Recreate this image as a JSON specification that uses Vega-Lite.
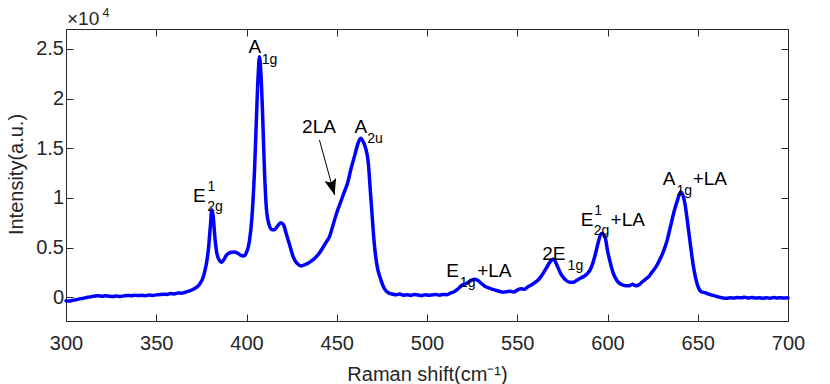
{
  "$schema": "https://vega.github.io/schema/vega-lite/v6.json",
  "width": 722,
  "height": 292,
  "autosize": "none",
  "padding": {"left": 66, "top": 29, "right": 42, "bottom": 63},
  "background": "white",
  "config": {
    "view": {"stroke": null},
    "font": "Liberation Sans",
    "axis": {
      "grid": false,
      "domain": true,
      "domainColor": "#262626",
      "domainWidth": 1,
      "tickColor": "#262626",
      "labelColor": "#262626",
      "titleColor": "#262626",
      "labelFont": "Liberation Sans",
      "titleFont": "Liberation Sans",
      "labelFontSize": 20,
      "titleFontSize": 20,
      "titleFontWeight": "normal",
      "tickSize": -7,
      "tickWidth": 1,
      "labelFlush": false,
      "labelOverlap": false
    }
  },
  "datasets": {
    "spectrum": [
      {"shift": 300, "intensity": -350}, {"shift": 302, "intensity": -380}, {"shift": 304, "intensity": -300},
      {"shift": 306, "intensity": -250}, {"shift": 308, "intensity": -150}, {"shift": 310, "intensity": -100},
      {"shift": 312, "intensity": 0}, {"shift": 314, "intensity": 50}, {"shift": 316, "intensity": 120},
      {"shift": 318, "intensity": 150}, {"shift": 320, "intensity": 100}, {"shift": 322, "intensity": 140},
      {"shift": 324, "intensity": 90}, {"shift": 326, "intensity": 60}, {"shift": 328, "intensity": 110},
      {"shift": 330, "intensity": 70}, {"shift": 332, "intensity": 130}, {"shift": 334, "intensity": 180},
      {"shift": 336, "intensity": 150}, {"shift": 338, "intensity": 200}, {"shift": 340, "intensity": 160},
      {"shift": 342, "intensity": 190}, {"shift": 344, "intensity": 150}, {"shift": 346, "intensity": 220},
      {"shift": 348, "intensity": 170}, {"shift": 350, "intensity": 230}, {"shift": 352, "intensity": 260},
      {"shift": 354, "intensity": 300}, {"shift": 356, "intensity": 280}, {"shift": 358, "intensity": 360},
      {"shift": 360, "intensity": 330}, {"shift": 362, "intensity": 420}, {"shift": 364, "intensity": 400},
      {"shift": 366, "intensity": 500}, {"shift": 368, "intensity": 600}, {"shift": 370, "intensity": 750},
      {"shift": 372, "intensity": 950}, {"shift": 374, "intensity": 1300}, {"shift": 376, "intensity": 2000},
      {"shift": 377, "intensity": 2700}, {"shift": 378, "intensity": 3600}, {"shift": 379, "intensity": 5000},
      {"shift": 380, "intensity": 7200}, {"shift": 380.8, "intensity": 8800}, {"shift": 381.5, "intensity": 8200},
      {"shift": 382.5, "intensity": 6000}, {"shift": 383.5, "intensity": 4500}, {"shift": 385, "intensity": 3700},
      {"shift": 386.2, "intensity": 3500}, {"shift": 387.5, "intensity": 3800}, {"shift": 389, "intensity": 4250},
      {"shift": 391, "intensity": 4500}, {"shift": 393, "intensity": 4550}, {"shift": 395, "intensity": 4450},
      {"shift": 397, "intensity": 4200}, {"shift": 398.5, "intensity": 4150}, {"shift": 400, "intensity": 4500},
      {"shift": 401.5, "intensity": 5500}, {"shift": 403, "intensity": 8000}, {"shift": 404.5, "intensity": 13000},
      {"shift": 405.5, "intensity": 18000}, {"shift": 406.5, "intensity": 22500}, {"shift": 407.2, "intensity": 24200},
      {"shift": 408, "intensity": 22500}, {"shift": 409, "intensity": 18000}, {"shift": 410, "intensity": 12500},
      {"shift": 411, "intensity": 9000}, {"shift": 412.5, "intensity": 7300}, {"shift": 414, "intensity": 6800},
      {"shift": 415.5, "intensity": 6800}, {"shift": 417, "intensity": 7100}, {"shift": 419, "intensity": 7500},
      {"shift": 420.5, "intensity": 7300}, {"shift": 422, "intensity": 6400}, {"shift": 424, "intensity": 5200},
      {"shift": 426, "intensity": 4000}, {"shift": 428, "intensity": 3400}, {"shift": 430.5, "intensity": 3150},
      {"shift": 432, "intensity": 3250}, {"shift": 434, "intensity": 3400}, {"shift": 436, "intensity": 3650},
      {"shift": 438, "intensity": 3950}, {"shift": 440, "intensity": 4350}, {"shift": 442, "intensity": 4900},
      {"shift": 444, "intensity": 5500}, {"shift": 446, "intensity": 6100}, {"shift": 448, "intensity": 7300},
      {"shift": 450, "intensity": 8500}, {"shift": 452, "intensity": 9500}, {"shift": 454, "intensity": 10500},
      {"shift": 456, "intensity": 11500}, {"shift": 458, "intensity": 13000}, {"shift": 460, "intensity": 14300},
      {"shift": 462, "intensity": 15600}, {"shift": 463.3, "intensity": 16000}, {"shift": 464.5, "intensity": 15700},
      {"shift": 466, "intensity": 15000}, {"shift": 467.5, "intensity": 13500}, {"shift": 468.5, "intensity": 11000},
      {"shift": 469.5, "intensity": 8500}, {"shift": 470.5, "intensity": 6000}, {"shift": 471.5, "intensity": 4200},
      {"shift": 472.5, "intensity": 3000}, {"shift": 474, "intensity": 2000}, {"shift": 475.5, "intensity": 1200},
      {"shift": 477, "intensity": 700}, {"shift": 479, "intensity": 400}, {"shift": 481, "intensity": 300},
      {"shift": 483, "intensity": 250}, {"shift": 485, "intensity": 320}, {"shift": 487, "intensity": 200},
      {"shift": 489, "intensity": 250}, {"shift": 491, "intensity": 180}, {"shift": 493, "intensity": 280},
      {"shift": 495, "intensity": 220}, {"shift": 497, "intensity": 150}, {"shift": 499, "intensity": 240},
      {"shift": 501, "intensity": 190}, {"shift": 503, "intensity": 230}, {"shift": 505, "intensity": 260},
      {"shift": 507, "intensity": 200}, {"shift": 509, "intensity": 280}, {"shift": 511, "intensity": 250},
      {"shift": 513, "intensity": 400}, {"shift": 515, "intensity": 550}, {"shift": 517, "intensity": 800},
      {"shift": 519, "intensity": 1150}, {"shift": 521, "intensity": 1300}, {"shift": 523, "intensity": 1500},
      {"shift": 525, "intensity": 1750}, {"shift": 526.5, "intensity": 1800}, {"shift": 528, "intensity": 1700},
      {"shift": 530, "intensity": 1400}, {"shift": 532, "intensity": 1100}, {"shift": 534, "intensity": 950},
      {"shift": 536, "intensity": 800}, {"shift": 538, "intensity": 700}, {"shift": 540, "intensity": 600},
      {"shift": 542, "intensity": 500}, {"shift": 544, "intensity": 550}, {"shift": 546, "intensity": 600},
      {"shift": 548, "intensity": 520}, {"shift": 550, "intensity": 700}, {"shift": 552, "intensity": 850},
      {"shift": 554, "intensity": 800}, {"shift": 556, "intensity": 1050}, {"shift": 558, "intensity": 1250},
      {"shift": 560, "intensity": 1500}, {"shift": 562, "intensity": 1800}, {"shift": 564, "intensity": 2300},
      {"shift": 566, "intensity": 2900}, {"shift": 568, "intensity": 3500}, {"shift": 569.8, "intensity": 3850},
      {"shift": 571, "intensity": 3600}, {"shift": 572.5, "intensity": 3000}, {"shift": 574, "intensity": 2400},
      {"shift": 575.5, "intensity": 2000}, {"shift": 577, "intensity": 1700}, {"shift": 579, "intensity": 1500},
      {"shift": 581, "intensity": 1500}, {"shift": 583, "intensity": 1700}, {"shift": 585, "intensity": 1900},
      {"shift": 587, "intensity": 2100}, {"shift": 589, "intensity": 2400}, {"shift": 590.5, "intensity": 2800},
      {"shift": 592, "intensity": 3500}, {"shift": 593.5, "intensity": 4500}, {"shift": 595, "intensity": 5600},
      {"shift": 596.5, "intensity": 6400}, {"shift": 598, "intensity": 6300}, {"shift": 599, "intensity": 5800},
      {"shift": 600, "intensity": 4700}, {"shift": 601.5, "intensity": 3500}, {"shift": 603, "intensity": 2500},
      {"shift": 604.5, "intensity": 1900}, {"shift": 606, "intensity": 1500}, {"shift": 608, "intensity": 1250},
      {"shift": 610, "intensity": 1150}, {"shift": 612, "intensity": 1150}, {"shift": 614, "intensity": 1300},
      {"shift": 615.5, "intensity": 1150}, {"shift": 617, "intensity": 1200}, {"shift": 619, "intensity": 1500},
      {"shift": 621, "intensity": 1800}, {"shift": 623, "intensity": 2100}, {"shift": 625, "intensity": 2600},
      {"shift": 627, "intensity": 3100}, {"shift": 629, "intensity": 3800}, {"shift": 631, "intensity": 4600},
      {"shift": 633, "intensity": 5700}, {"shift": 635, "intensity": 7200}, {"shift": 637, "intensity": 8700},
      {"shift": 639, "intensity": 9900}, {"shift": 640.5, "intensity": 10600}, {"shift": 641.5, "intensity": 10400},
      {"shift": 643, "intensity": 9300}, {"shift": 644.5, "intensity": 7300}, {"shift": 646, "intensity": 5200},
      {"shift": 647.5, "intensity": 3200}, {"shift": 649, "intensity": 1800}, {"shift": 650.5, "intensity": 900},
      {"shift": 652, "intensity": 550}, {"shift": 654, "intensity": 450}, {"shift": 656, "intensity": 300},
      {"shift": 658, "intensity": 200}, {"shift": 660, "intensity": 100}, {"shift": 662, "intensity": 0},
      {"shift": 664, "intensity": -80}, {"shift": 666, "intensity": -100}, {"shift": 668, "intensity": -60},
      {"shift": 670, "intensity": -90}, {"shift": 672, "intensity": -40}, {"shift": 674, "intensity": -70},
      {"shift": 676, "intensity": 0}, {"shift": 678, "intensity": -80}, {"shift": 680, "intensity": -30},
      {"shift": 682, "intensity": -90}, {"shift": 684, "intensity": -60}, {"shift": 686, "intensity": -120},
      {"shift": 688, "intensity": -50}, {"shift": 690, "intensity": -100}, {"shift": 692, "intensity": -40},
      {"shift": 694, "intensity": -80}, {"shift": 696, "intensity": -60}, {"shift": 698, "intensity": -90},
      {"shift": 700, "intensity": -70}
    ],
    "arrow": [
      {"x": 440.4, "y": 15827, "x2": 448.8, "y2": 10290}
    ],
    "multiplier": [
      {"x": 300, "y": 27000, "base": "×10", "exponent": "4"}
    ],
    "labels": [
      {"x": 401.1, "y": 24536, "text": "A"},
      {"x": 370.4, "y": 9615, "text": "E"},
      {"x": 430.8, "y": 16501, "text": "2LA"},
      {"x": 459.8, "y": 16501, "text": "A"},
      {"x": 510.7, "y": 2004, "text": "E"},
      {"x": 527.8, "y": 2004, "text": "+LA"},
      {"x": 563.8, "y": 3695, "text": "2E"},
      {"x": 585.2, "y": 7168, "text": "E"},
      {"x": 601.7, "y": 7168, "text": "+LA"},
      {"x": 630.6, "y": 11296, "text": "A"},
      {"x": 647.2, "y": 11296, "text": "+LA"}
    ],
    "subscripts": [
      {"x": 408.4, "y": 23428, "text": "1g"},
      {"x": 378.2, "y": 8679, "text": "2g"},
      {"x": 466.9, "y": 15475, "text": "2u"},
      {"x": 518.2, "y": 1027, "text": "1g"},
      {"x": 577.9, "y": 2688, "text": "1g"},
      {"x": 592.4, "y": 6212, "text": "2g"},
      {"x": 638.2, "y": 10239, "text": "1g"}
    ],
    "superscripts": [
      {"x": 378.4, "y": 10642, "text": "1"},
      {"x": 592.6, "y": 8226, "text": "1"}
    ]
  },
  "layer": [
    {
      "data": {"name": "spectrum"},
      "mark": {"type": "line", "color": "#0000ff", "strokeWidth": 3.5, "interpolate": "monotone", "strokeJoin": "round", "strokeCap": "round"},
      "encoding": {
        "x": {
          "field": "shift", "type": "quantitative",
          "scale": {"domain": [300, 700], "nice": false, "zero": false},
          "axis": {
            "orient": "bottom",
            "values": [300, 350, 400, 450, 500, 550, 600, 650, 700],
            "labelPadding": 35.3,
            "labelBaseline": "alphabetic",
            "title": "Raman shift(cm⁻¹)",
            "titleX": 361,
            "titleY": 59,
            "titleAlign": "center",
            "titleBaseline": "alphabetic",
            "titleAnchor": null
          }
        },
        "y": {
          "field": "intensity", "type": "quantitative",
          "scale": {"domain": [-2400, 27000], "nice": false, "zero": false},
          "axis": {
            "orient": "left",
            "values": [0, 5000, 10000, 15000, 20000, 25000],
            "labelExpr": "datum.value / 10000",
            "labelPadding": 9.5,
            "title": "Intensity(a.u.)",
            "titleX": -44,
            "titleY": 145,
            "titleAngle": 270,
            "titleAlign": "center",
            "titleBaseline": "alphabetic"
          }
        }
      }
    },
    {
      "data": {"name": "arrow"},
      "mark": {"type": "rule", "color": "#000000", "strokeWidth": 1},
      "encoding": {
        "x": {
          "field": "x", "type": "quantitative",
          "scale": {"domain": [300, 700], "nice": false, "zero": false},
          "axis": {"orient": "top", "values": [300, 350, 400, 450, 500, 550, 600, 650, 700], "labels": false, "title": null}
        },
        "y": {
          "field": "y", "type": "quantitative",
          "scale": {"domain": [-2400, 27000], "nice": false, "zero": false},
          "axis": {"orient": "right", "values": [0, 5000, 10000, 15000, 20000, 25000], "labels": false, "title": null}
        },
        "x2": {"field": "x2"},
        "y2": {"field": "y2"}
      }
    },
    {
      "data": {"name": "arrow"},
      "mark": {"type": "point", "shape": "M0,0 L-0.375,-1 L0,-0.8 L0.375,-1 Z", "size": 1024, "filled": true, "color": "#000000", "opacity": 1, "strokeWidth": 0, "angle": 344.6},
      "encoding": {
        "x": {"field": "x2", "type": "quantitative", "axis": null},
        "y": {"field": "y2", "type": "quantitative", "axis": null}
      }
    },
    {
      "data": {"name": "multiplier"},
      "mark": {"type": "text", "align": "left", "baseline": "alphabetic", "fontSize": 19, "font": "Liberation Sans", "color": "#262626", "dx": 1, "dy": -4},
      "encoding": {
        "x": {"field": "x", "type": "quantitative", "axis": null},
        "y": {"field": "y", "type": "quantitative", "axis": null},
        "text": {"field": "base"}
      }
    },
    {
      "data": {"name": "multiplier"},
      "mark": {"type": "text", "align": "left", "baseline": "alphabetic", "fontSize": 12.5, "font": "Liberation Sans", "color": "#262626", "dx": 36.5, "dy": -12.3},
      "encoding": {
        "x": {"field": "x", "type": "quantitative", "axis": null},
        "y": {"field": "y", "type": "quantitative", "axis": null},
        "text": {"field": "exponent"}
      }
    },
    {
      "data": {"name": "labels"},
      "mark": {"type": "text", "align": "left", "baseline": "alphabetic", "fontSize": 19, "font": "Liberation Sans", "color": "#000000"},
      "encoding": {
        "x": {"field": "x", "type": "quantitative", "axis": null},
        "y": {"field": "y", "type": "quantitative", "axis": null},
        "text": {"field": "text"}
      }
    },
    {
      "data": {"name": "subscripts"},
      "mark": {"type": "text", "align": "left", "baseline": "alphabetic", "fontSize": 14, "font": "Liberation Sans", "color": "#000000"},
      "encoding": {
        "x": {"field": "x", "type": "quantitative", "axis": null},
        "y": {"field": "y", "type": "quantitative", "axis": null},
        "text": {"field": "text"}
      }
    },
    {
      "data": {"name": "superscripts"},
      "mark": {"type": "text", "align": "left", "baseline": "alphabetic", "fontSize": 14, "font": "Liberation Sans", "color": "#000000"},
      "encoding": {
        "x": {"field": "x", "type": "quantitative", "axis": null},
        "y": {"field": "y", "type": "quantitative", "axis": null},
        "text": {"field": "text"}
      }
    }
  ],
  "resolve": {"axis": {"x": "independent", "y": "independent"}}
}
